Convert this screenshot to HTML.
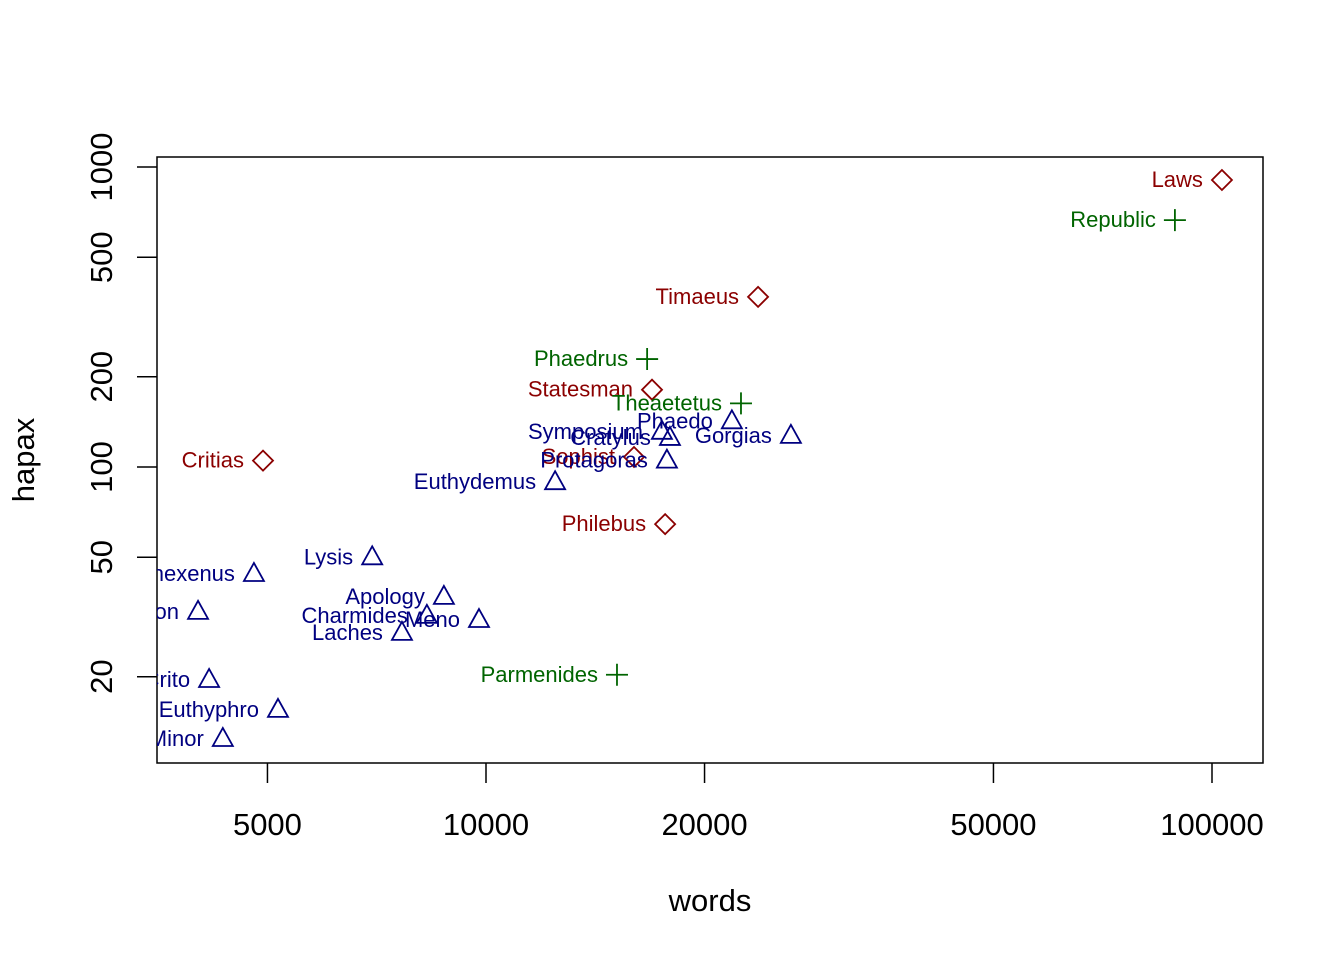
<!DOCTYPE html>
<html><head><meta charset="utf-8"><style>
html,body{margin:0;padding:0;background:#fff;}
svg{display:block;font-family:"Liberation Sans",Arial,sans-serif;}
</style></head><body>
<svg id="chart" width="1344" height="960">
<defs><clipPath id="plotclip"><rect x="157" y="157" width="1106" height="606"/></clipPath></defs>
<rect x="157" y="157" width="1106" height="606" fill="none" stroke="#000" stroke-width="1.5"/>
<g id="xaxis"></g>
<g id="yaxis"></g>
<text x="710" y="911" font-size="31" text-anchor="middle">words</text>
<text transform="translate(34,460) rotate(-90)" font-size="31" text-anchor="middle">hapax</text>
<g id="points" clip-path="url(#plotclip)"></g>
</svg>
<script>
const names=["Laws","Republic","Timaeus","Phaedrus","Statesman","Theaetetus","Phaedo","Gorgias","Symposium","Cratylus","Sophist","Protagoras","Euthydemus","Philebus","Critias","Lysis","Menexenus","Ion","Apology","Charmides","Meno","Laches","Parmenides","Crito","Euthyphro","Hippias Minor"];
const words=[103200,88900,23700,16670,16930,22450,21810,26300,17470,17920,15990,17750,12450,17650,4930,6970,4790,4012,8750,8290,9780,7660,15150,4155,5170,4340];
const hapax=[905,665,369,229,181,163,142,127,131,125,108,105,89,64.5,105,50,44,32.9,36.9,31.9,30.9,28,20.3,19.5,15.5,12.4];
const groups=["late","middle","late","middle","late","middle","early","early","early","early","late","early","early","late","late","early","early","early","early","early","early","early","middle","early","early","early"];
const xTicks=[5000,10000,20000,50000,100000];
const yTicks=[20,50,100,200,500,1000];
const colors={late:"#8B0000",middle:"#006400",early:"#000080"};
const NS="http://www.w3.org/2000/svg";
function X(w){return 486+(Math.log10(w)-4)*726;}
function Y(h){return 467-(Math.log10(h)-2)*300;}
function mk(tag,attrs,parent){const e=document.createElementNS(NS,tag);for(const k in attrs)e.setAttribute(k,attrs[k]);parent.appendChild(e);return e;}
const xa=document.getElementById('xaxis'),ya=document.getElementById('yaxis'),pg=document.getElementById('points');
xTicks.forEach(t=>{const x=X(t);
 const l=mk('line',{x1:x,x2:x,y1:763,y2:783,stroke:'#000','stroke-width':1.5},xa);
 
 
 const tx=mk('text',{x:x,y:835,'font-size':31,'text-anchor':'middle'},xa);tx.textContent=t;
 
 
});
yTicks.forEach(t=>{const y=Y(t);
 const l=mk('line',{x1:137,x2:157,y1:y,y2:y,stroke:'#000','stroke-width':1.5},ya);
 
 
 const tx=mk('text',{transform:`translate(112,${y}) rotate(-90)`,'font-size':31,'text-anchor':'middle'},ya);tx.textContent=t;
 
 
});
names.forEach((n,i)=>{const x=X(words[i]),y=Y(hapax[i]),c=colors[groups[i]];
 let m;
 if(groups[i]==='late') m=mk('polygon',{points:`${x},${y-10} ${x+10},${y} ${x},${y+10} ${x-10},${y}`,fill:'none',stroke:c,'stroke-width':1.8},pg);
 else if(groups[i]==='middle') m=mk('path',{d:`M${x-11},${y}H${x+11}M${x},${y-11}V${y+11}`,fill:'none',stroke:c,'stroke-width':1.8},pg);
 else m=mk('polygon',{points:`${x},${y-11} ${x+10},${y+7} ${x-10},${y+7}`,fill:'none',stroke:c,'stroke-width':1.8},pg);
 
 
 const t=mk('text',{x:x-19,y:y+7,'font-size':22,'text-anchor':'end',fill:c},pg);t.textContent=n;
 
 
});
</script>
</body></html>
